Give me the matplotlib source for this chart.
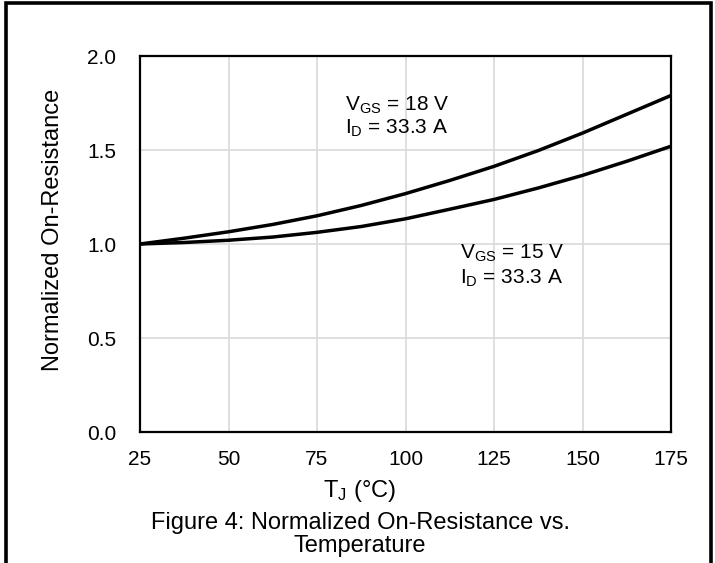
import matplotlib
matplotlib.use('Agg')
import matplotlib.pyplot as plt
from matplotlib.patches import Rectangle

plt.rcParams['font.family'] = ['Liberation Sans', 'DejaVu Sans']
plt.rcParams['mathtext.fontset'] = 'custom'
plt.rcParams['mathtext.rm'] = 'Liberation Sans'
plt.rcParams['mathtext.it'] = 'Liberation Sans'

# Data
temp = [25, 37.5, 50, 62.5, 75, 87.5, 100, 112.5, 125, 137.5, 150, 162.5, 175]
rds_18v = [1.00, 1.031, 1.065, 1.104, 1.150, 1.205, 1.268, 1.338, 1.413, 1.497, 1.59, 1.69, 1.79]
rds_15v = [1.00, 1.008, 1.02, 1.037, 1.062, 1.093, 1.134, 1.185, 1.237, 1.298, 1.365, 1.44, 1.52]

x_ticks = [25, 50, 75, 100, 125, 150, 175]
y_ticks = [0.0, 0.5, 1.0, 1.5, 2.0]

fig = plt.figure(figsize=(7.15, 5.63), dpi=100)
ax = fig.add_axes([140 / 715, 1 - 432 / 563, 531 / 715, 376 / 563])

ax.plot(temp, rds_18v, color='black', linewidth=2.5, solid_joinstyle='round')
ax.plot(temp, rds_15v, color='black', linewidth=2.5, solid_joinstyle='round')

ax.set_xlim(25, 175)
ax.set_ylim(0, 2.0)
ax.set_xticks(x_ticks)
ax.set_yticks(y_ticks)
ax.set_yticklabels(['%.1f' % v for v in y_ticks])
ax.grid(True, color='#d9d9d9', linewidth=1.2)
ax.set_axisbelow(True)
ax.tick_params(length=0, labelsize=15, colors='black')
ax.tick_params(axis='x', pad=13)
ax.tick_params(axis='y', pad=17)
for sp in ax.spines.values():
    sp.set_linewidth(1.6)
    sp.set_color('black')

ax.text(83, 1.738, r'V$_\mathrm{GS}$ = 18 V', fontsize=15, va='center')
ax.text(83, 1.615, r'I$_\mathrm{D}$ = 33.3 A', fontsize=15, va='center')
ax.text(115.5, 0.95, r'V$_\mathrm{GS}$ = 15 V', fontsize=15, va='center')
ax.text(115.5, 0.817, r'I$_\mathrm{D}$ = 33.3 A', fontsize=15, va='center')

fig.text(53 / 715, 1 - 230 / 563, 'Normalized On-Resistance', rotation=90,
         fontsize=17, ha='center', va='center')
fig.text(360 / 715, 1 - 491 / 563, r'T$_\mathrm{J}$ (°C)', fontsize=17,
         ha='center', va='center')
fig.text(360 / 715, 1 - 523 / 563, 'Figure 4: Normalized On-Resistance vs.',
         fontsize=17, ha='center', va='center')
fig.text(360 / 715, 1 - 546 / 563, 'Temperature', fontsize=17,
         ha='center', va='center')

# outer frame, bottom edge runs off the picture
fig.patches.append(Rectangle((6 / 715, -0.02), 705 / 715, 1.0 - 3 / 563 + 0.02,
                             transform=fig.transFigure, fill=False,
                             edgecolor='black', linewidth=2.6, clip_on=False))

fig.savefig('out.png', dpi=100)
